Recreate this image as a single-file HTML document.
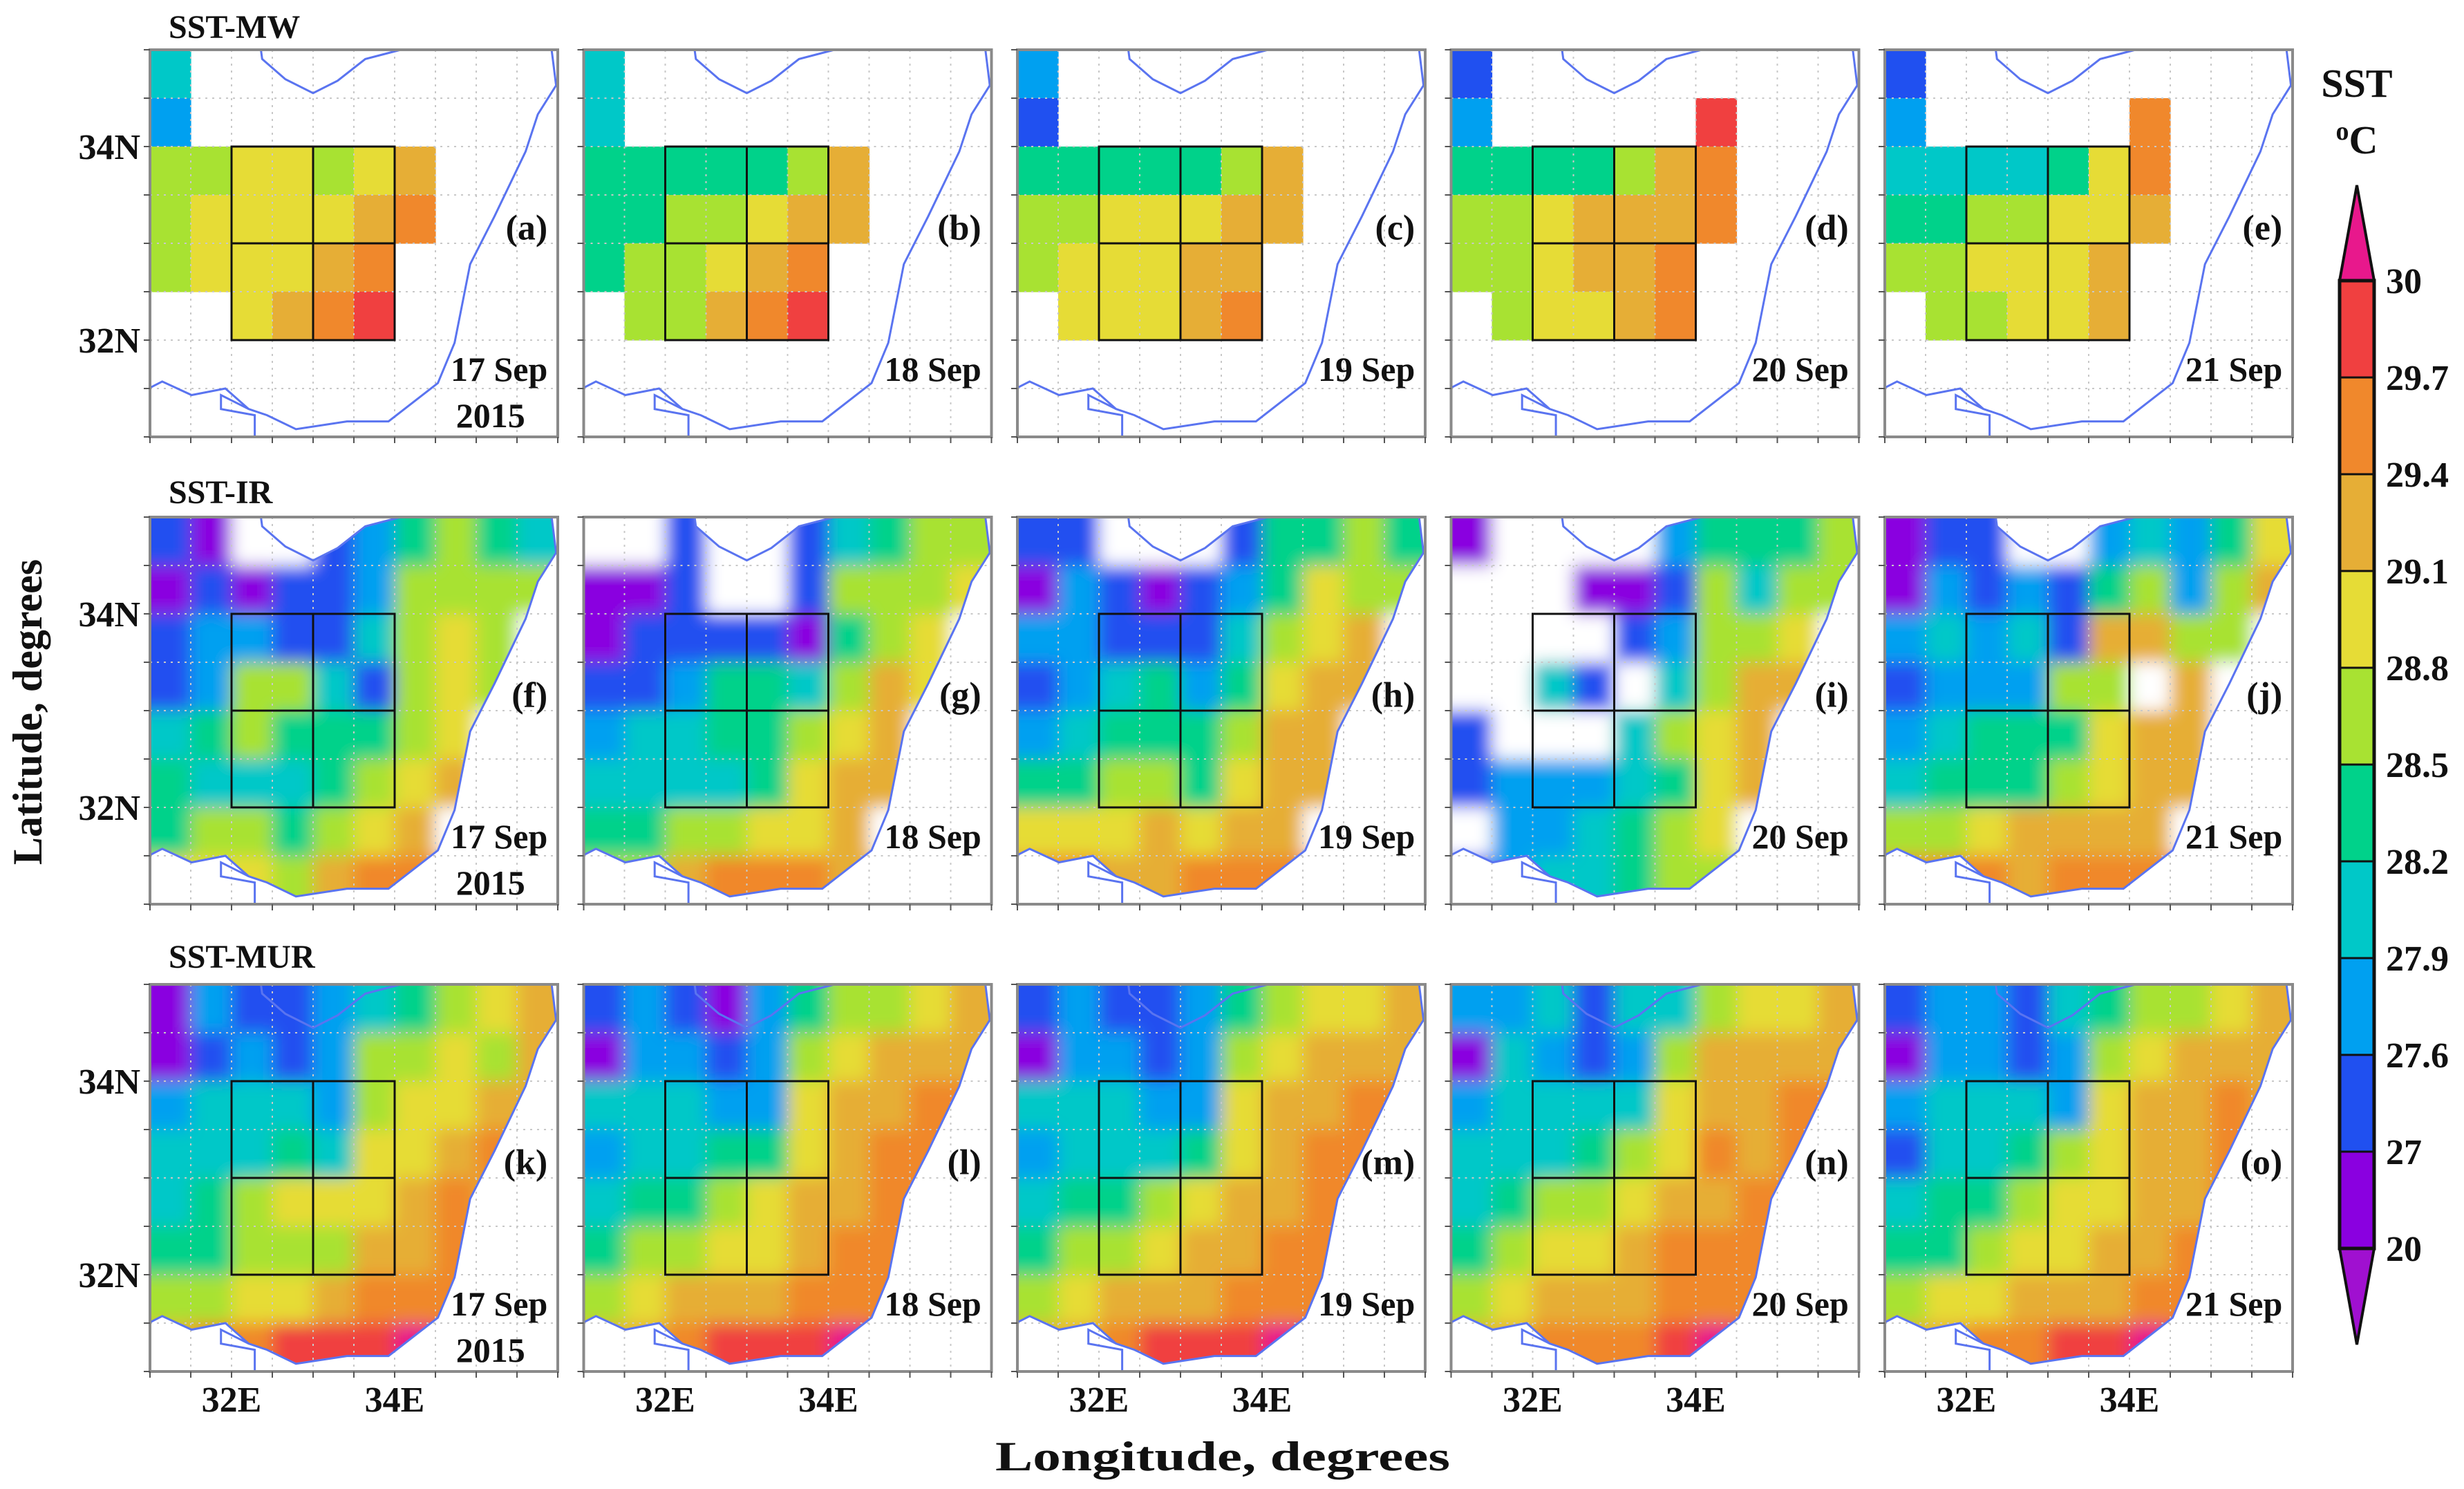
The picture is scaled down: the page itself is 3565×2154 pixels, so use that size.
<!DOCTYPE html>
<html><head><meta charset="utf-8">
<style>
html,body{margin:0;padding:0;background:#fff;}
svg{display:block;}
text{font-family:"Liberation Serif",serif;font-weight:bold;fill:#111;}
</style></head>
<body>
<svg id="fig" width="3565" height="2154" viewBox="0 0 3565 2154" xmlns="http://www.w3.org/2000/svg">
<defs>
<filter id="soft" x="-5%" y="-5%" width="110%" height="110%"><feGaussianBlur stdDeviation="12"/></filter>
</defs>
<rect width="3565" height="2154" fill="#fff"/>
<text x="244" y="55" font-size="48">SST-MW</text>
<text x="244" y="728" font-size="48">SST-IR</text>
<text x="244" y="1400" font-size="48">SST-MUR</text>
<text x="1440" y="2127" font-size="60" textLength="658" lengthAdjust="spacingAndGlyphs">Longitude,  degrees</text>
<text x="0" y="0" font-size="60" text-anchor="middle" transform="translate(60,1030) rotate(-90)">Latitude, degrees</text>
<text x="3410" y="140" font-size="58" text-anchor="middle">SST</text>
<text x="3410" y="222" font-size="58" text-anchor="middle"><tspan font-size="38" dy="-20">o</tspan><tspan dy="20">C</tspan></text>
<g id="panels"></g>
<g id="cbar"></g>
</svg>
<script>
// colour levels (index 0..10)
const levelColors = ['#8a00e0','#2050f0','#00a0f0','#00c8c8','#00d28a','#a8e232','#e6dc36','#e6ae36','#f0882c','#f04040','#e8188c'];
const cbarTicks = ['20','27','27.6','27.9','28.2','28.5','28.8','29.1','29.4','29.7','30'];
const dates = ['17 Sep','18 Sep','19 Sep','20 Sep','21 Sep'];
const panelLetters = [['a','b','c','d','e'],['f','g','h','i','j'],['k','l','m','n','o']];
// SST level grids: 10 columns (31E..36E, 0.5deg) x 8 rows (35N..31N); '.' = no data
const mwGrids = [
 ["3.........","2.........","5566567...","5666678...","566678....","..6789....","..........",".........."],
 ["3.........","3.........","4444457...","4455677...","455678....",".55789....","..........",".........."],
 ["2.........","1.........","4444457...","5566677...","566677....",".66678....","..........",".........."],
 ["1.........","2.....9...","4444578...","5567778...","556778....",".56678....","..........",".........."],
 ["1.........","2.....8...","3333468...","4455667...","556667....",".55667....","..........",".........."]
];
const irGrids = [
 ["10..124543","0101125555","122113565.","125531565.","34544456..","43334567..","4554567...","6665788888"],
 ["..1..13455","001..15556","011110456.","112443576.","23344567..","33334677..","4455667...","5578887777"],
 ["11...14454","0210124655","221113567.","123424677.","23444577..","44554677..","6667677...","8877888999"],
 ["0....24445","...0015355","....12556.","..31.3577.","1...3567..","12223467..",".223456...","1233455555"],
 ["011..23246","0212145257","232317755.","122255.7..","23444677..","34445677..","5567777...","8887888999"]
];
const murGrids = [
 ["0211234567","0121255657","2333256677","3334366788","3456667877","4455577888","5566788888","788999a999"],
 ["1210245567","0221256777","3332267788","2334467888","3445677888","4556678888","5677788888","778999a999"],
 ["1211245667","0221256777","3332267788","2333467888","3445677888","4556778888","5677788888","778999a999"],
 ["2231335667","0321257777","2333367788","3334568788","3455677888","4566788888","5677788888","778889a999"],
 ["1221345567","0221256777","2333267787","1334567787","3445667787","4456677888","5667778888","778899a999"]
];
</script>
<script>
const NS='http://www.w3.org/2000/svg';
function mk(tag, attrs, parent){const e=document.createElementNS(NS,tag);for(const k in attrs)e.setAttribute(k,attrs[k]);if(parent)parent.appendChild(e);return e;}
const W=590,H=560,rowY=[72,748,1424];
function px(col){return 217+col*627.5;}
const coastMain=[[0,0.873],[0.030,0.857],[0.102,0.892],[0.185,0.875],[0.242,0.928],[0.287,0.944],[0.358,0.980],[0.483,0.960],[0.585,0.960],[0.706,0.861],[0.747,0.757],[0.785,0.554],[0.845,0.430],[0.921,0.263],[0.951,0.167],[0.996,0.092],[0.985,0]];
const lagoon=[[0.242,0.928],[0.174,0.892],[0.174,0.928],[0.257,0.944],[0.257,1.0]];
const cyprus=[[0.272,0],[0.275,0.024],[0.332,0.076],[0.4,0.112],[0.46,0.08],[0.528,0.024],[0.615,0]];
function pts(arr,x0,y0){return arr.map(p=>(x0+p[0]*W).toFixed(1)+','+(y0+p[1]*H).toFixed(1)).join(' ');}
function colorOf(ch){if(ch==='.')return null;if(ch==='a')return levelColors[10];return levelColors[+ch];}

const panelsG=document.getElementById('panels');
let clipId=0;
function drawPanel(row,col,grid,kind){
  const x0=px(col),y0=rowY[row],cw=W/10,chh=H/8;
  const g=mk('g',{},panelsG);
  
  
  const cid='clip'+(clipId++);
  const cp=mk('clipPath',{id:cid},g);
  if(kind==='mw'){
    mk('rect',{x:x0,y:y0,width:W,height:H},cp);
  } else {
    const poly=[[0,0]].concat(kind==='ir'?cyprus:[]).concat(coastMain.slice().reverse());
    mk('polygon',{points:pts(poly,x0,y0)},cp);
  }
  const field=mk('g',{'clip-path':'url(#'+cid+')'},g);
  const inner=mk('g',kind==='mw'?{}:{filter:'url(#soft)'},field);
  grid.forEach((rowStr,r)=>{
    for(let c=0;c<rowStr.length;c++){
      let col_=colorOf(rowStr[c]);
      if(col_===null){ if(kind==='mw') continue; col_='#ffffff'; }
      let x=x0+c*cw,y=y0+r*chh,w=cw+0.6,h=chh+0.6;
      if(kind!=='mw'){ if(c===0){x-=cw;w+=cw;} if(c===9){w+=cw;} if(r===0){y-=chh;h+=chh;} if(r===7){h+=chh;} }
      const cell=mk('rect',{x:x.toFixed(1),y:y.toFixed(1),width:w.toFixed(1),height:h.toFixed(1),fill:col_},inner);
      
      
    }
  });
  for(let i=1;i<10;i++) mk('line',{x1:x0+i*cw,y1:y0,x2:x0+i*cw,y2:y0+H,stroke:'#c8c8c8','stroke-width':2,'stroke-dasharray':'3,7'},g);
  for(let j=1;j<8;j++) mk('line',{x1:x0,y1:y0+j*chh,x2:x0+W,y2:y0+j*chh,stroke:'#c8c8c8','stroke-width':2,'stroke-dasharray':'3,7'},g);
  const cst=mk('polyline',{points:pts(coastMain,x0,y0),fill:'none',stroke:'#5a74f0','stroke-width':3},g);
  
  
  mk('polyline',{points:pts(lagoon,x0,y0),fill:'none',stroke:'#5a74f0','stroke-width':3},g);
  mk('polyline',{points:pts(cyprus,x0,y0),fill:'none',stroke:'#5a74f0','stroke-width':3},g);
  const box=mk('g',{},g);
  
  
  mk('rect',{x:x0+2*cw,y:y0+2*chh,width:4*cw,height:4*chh,fill:'none',stroke:'#111','stroke-width':3},box);
  mk('line',{x1:x0+4*cw,y1:y0+2*chh,x2:x0+4*cw,y2:y0+6*chh,stroke:'#111','stroke-width':3},box);
  mk('line',{x1:x0+2*cw,y1:y0+4*chh,x2:x0+6*cw,y2:y0+4*chh,stroke:'#111','stroke-width':3},box);
  mk('rect',{x:x0,y:y0,width:W,height:H,fill:'none',stroke:'#8a8a8a','stroke-width':4},g);
  for(let i=0;i<=10;i++) mk('line',{x1:x0+i*cw,y1:y0+H,x2:x0+i*cw,y2:y0+H+9,stroke:'#555','stroke-width':2},g);
  for(let j=0;j<=8;j++) mk('line',{x1:x0-9,y1:y0+j*chh,x2:x0,y2:y0+j*chh,stroke:'#555','stroke-width':2},g);
  const lab=mk('text',{x:x0+0.975*W,y:y0+0.49*H,'font-size':52,'text-anchor':'end'},g);
  lab.textContent='('+panelLetters[row][col]+')';
  
  
  const dt=mk('text',{x:x0+0.975*W,y:y0+0.855*H,'font-size':50,'text-anchor':'end'},g);
  dt.textContent=dates[col];
  
  
  if(col===0){
    const yr=mk('text',{x:x0+0.92*W,y:y0+0.975*H,'font-size':50,'text-anchor':'end'},g);
    yr.textContent='2015';
    
    
    [['34N',2],['32N',6]].forEach(([t,j])=>{
      const tl=mk('text',{x:x0-14,y:y0+j*chh+18,'font-size':52,'text-anchor':'end'},g);
      tl.textContent=t;
      
      
    });
  }
  if(row===2){
    [['32E',2],['34E',6]].forEach(([t,i])=>{
      const tl=mk('text',{x:x0+i*cw,y:2042,'font-size':52,'text-anchor':'middle'},g);
      tl.textContent=t;
      
      
    });
  }
}
for(let c=0;c<5;c++){drawPanel(0,c,mwGrids[c],'mw');drawPanel(1,c,irGrids[c],'ir');drawPanel(2,c,murGrids[c],'mur');}

const cb=document.getElementById('cbar');


const cbx=3385,cbw=50,cbTop=406,blk=140;
const nb=cbarTicks.length-1;
for(let k=0;k<nb;k++){
  const y=cbTop+(nb-1-k)*blk;
  const r=mk('rect',{x:cbx,y:y,width:cbw,height:blk,fill:levelColors[k],stroke:'#111','stroke-width':3},cb);
  
  
}
const tTop=mk('polygon',{points:`${cbx},${cbTop} ${cbx+cbw},${cbTop} ${cbx+cbw/2},268`,fill:levelColors[10],stroke:'#111','stroke-width':4},cb);


const bot=cbTop+nb*blk;
const tBot=mk('polygon',{points:`${cbx},${bot} ${cbx+cbw},${bot} ${cbx+cbw/2},1945`,fill:'#a010d0',stroke:'#111','stroke-width':4},cb);


mk('rect',{x:cbx,y:cbTop,width:cbw,height:nb*blk,fill:'none',stroke:'#111','stroke-width':5},cb);
cbarTicks.forEach((t,k)=>{
  const y=bot-k*blk;
  const tx=mk('text',{x:3452,y:y+18,'font-size':52},cb);
  tx.textContent=t;
  
  
});
</script>
</body></html>
